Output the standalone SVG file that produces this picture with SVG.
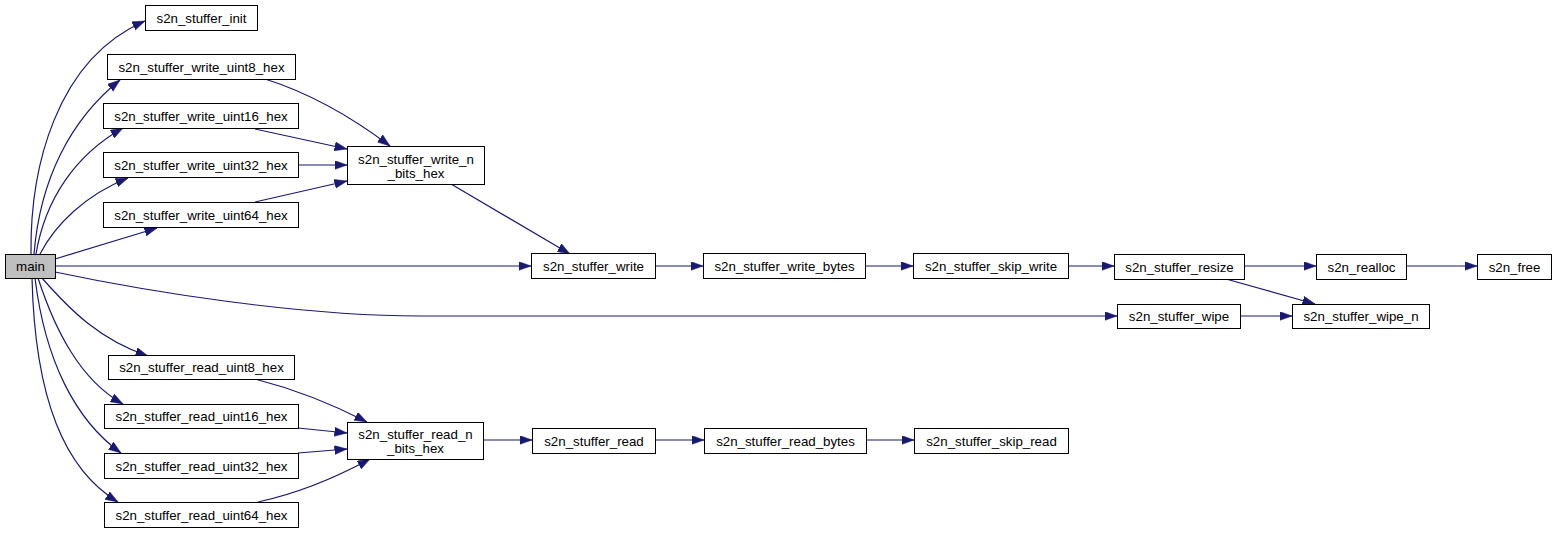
<svg xmlns="http://www.w3.org/2000/svg" width="1556" height="533" viewBox="0 0 1556 533">
<style>
.n rect{fill:#ffffff;stroke:#000000;stroke-width:1}
.n text{font-family:"Liberation Sans",Arial,sans-serif;font-size:13.3px;fill:#000000;text-anchor:middle}
.e path{fill:none;stroke:#191970;stroke-width:1.2;marker-end:url(#ah)}
</style>
<defs>
<marker id="ah" markerUnits="userSpaceOnUse" markerWidth="14" markerHeight="10" refX="12.5" refY="4.5" orient="auto">
<path d="M0,0 L12.5,4.5 L0,9 z" fill="#191970" stroke="#191970" stroke-width="0.5"/>
</marker>
</defs>
<rect width="1556" height="533" fill="#ffffff"/>
<g id="connectors" class="e">
<path d="M31,254 C30,170 55,60 145,21"/>
<path d="M34,254 C40,180 70,120 120,80"/>
<path d="M36,254 C45,200 75,155 123,128"/>
<path d="M40,254 C55,225 85,195 128,178"/>
<path d="M55,259 L157,228"/>
<path d="M55,266 L531,266"/>
<path d="M55,272 C150,292 300,316 420,316 L1117,316"/>
<path d="M42,278 C70,310 100,340 148,356"/>
<path d="M38,278 C55,330 80,380 123,404"/>
<path d="M35,278 C45,360 75,420 121,453"/>
<path d="M32,278 C35,400 65,470 118,502"/>
<path d="M265,79 C300,90 345,112 390,146"/>
<path d="M255,129 L347,149"/>
<path d="M298,165 L347,165"/>
<path d="M255,202 L347,181"/>
<path d="M451,184 L570,254"/>
<path d="M255,379 C290,388 330,403 367,422"/>
<path d="M298,428 L347,433"/>
<path d="M298,453 L347,449"/>
<path d="M258,502 C295,494 335,478 370,459"/>
<path d="M483,440 L532,440"/>
<path d="M655,266 L703,266"/>
<path d="M865,266 L913,266"/>
<path d="M1068,266 L1114,266"/>
<path d="M1244,266 L1316,266"/>
<path d="M1406,266 L1477,266"/>
<path d="M1240,316 L1292,316"/>
<path d="M1226,279 L1315,304"/>
<path d="M655,440 L704,440"/>
<path d="M866,440 L914,440"/>
</g>
<g id="main" class="n"><rect x="5.5" y="254.5" width="50" height="24" style="fill:#bfbfbf"/><text x="30.5" y="271">main</text></g>
<g id="init" class="n"><rect x="145.5" y="5.5" width="112" height="25"/><text x="201.5" y="22.5">s2n_stuffer_init</text></g>
<g id="write_uint8_hex" class="n"><rect x="107.5" y="54.5" width="188" height="25"/><text x="201.5" y="71.5">s2n_stuffer_write_uint8_hex</text></g>
<g id="write_uint16_hex" class="n"><rect x="103.5" y="103.5" width="195" height="25"/><text x="201" y="120.5">s2n_stuffer_write_uint16_hex</text></g>
<g id="write_uint32_hex" class="n"><rect x="103.5" y="152.5" width="195" height="25"/><text x="201" y="169.5">s2n_stuffer_write_uint32_hex</text></g>
<g id="write_uint64_hex" class="n"><rect x="103.5" y="202.5" width="195" height="25"/><text x="201" y="219.5">s2n_stuffer_write_uint64_hex</text></g>
<g id="write_n_bits_hex" class="n"><rect x="347.5" y="146.5" width="137" height="38"/><text x="416" y="164">s2n_stuffer_write_n</text><text x="416" y="178">_bits_hex</text></g>
<g id="write" class="n"><rect x="531.5" y="253.5" width="124" height="25"/><text x="593.5" y="270.5">s2n_stuffer_write</text></g>
<g id="write_bytes" class="n"><rect x="703.5" y="253.5" width="162" height="25"/><text x="784.5" y="270.5">s2n_stuffer_write_bytes</text></g>
<g id="skip_write" class="n"><rect x="913.5" y="253.5" width="155" height="25"/><text x="991" y="270.5">s2n_stuffer_skip_write</text></g>
<g id="resize" class="n"><rect x="1114.5" y="254.5" width="130" height="25"/><text x="1179.5" y="271.5">s2n_stuffer_resize</text></g>
<g id="realloc" class="n"><rect x="1316.5" y="254.5" width="90" height="25"/><text x="1361.5" y="271.5">s2n_realloc</text></g>
<g id="free" class="n"><rect x="1477.5" y="254.5" width="74" height="25"/><text x="1514.5" y="271.5">s2n_free</text></g>
<g id="wipe" class="n"><rect x="1117.5" y="304.5" width="123" height="24"/><text x="1179" y="321">s2n_stuffer_wipe</text></g>
<g id="wipe_n" class="n"><rect x="1292.5" y="304.5" width="137" height="24"/><text x="1361" y="321">s2n_stuffer_wipe_n</text></g>
<g id="read_uint8_hex" class="n"><rect x="108.5" y="355.5" width="186" height="24"/><text x="201.5" y="372">s2n_stuffer_read_uint8_hex</text></g>
<g id="read_uint16_hex" class="n"><rect x="104.5" y="404.5" width="194" height="24"/><text x="201.5" y="421">s2n_stuffer_read_uint16_hex</text></g>
<g id="read_uint32_hex" class="n"><rect x="104.5" y="453.5" width="194" height="25"/><text x="201.5" y="470.5">s2n_stuffer_read_uint32_hex</text></g>
<g id="read_uint64_hex" class="n"><rect x="104.5" y="502.5" width="194" height="25"/><text x="201.5" y="519.5">s2n_stuffer_read_uint64_hex</text></g>
<g id="read_n_bits_hex" class="n"><rect x="347.5" y="422.5" width="136" height="37"/><text x="415.5" y="439">s2n_stuffer_read_n</text><text x="415.5" y="453">_bits_hex</text></g>
<g id="read" class="n"><rect x="532.5" y="428.5" width="123" height="25"/><text x="594" y="445.5">s2n_stuffer_read</text></g>
<g id="read_bytes" class="n"><rect x="704.5" y="428.5" width="162" height="25"/><text x="785.5" y="445.5">s2n_stuffer_read_bytes</text></g>
<g id="skip_read" class="n"><rect x="914.5" y="428.5" width="154" height="25"/><text x="991.5" y="445.5">s2n_stuffer_skip_read</text></g>
</svg>
